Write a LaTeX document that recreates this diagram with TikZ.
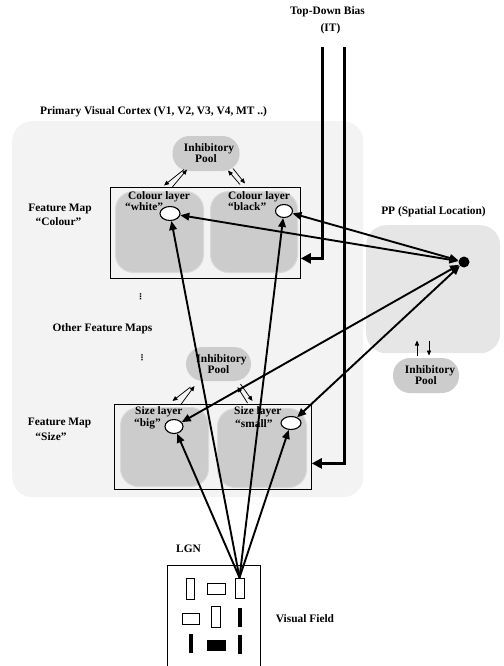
\documentclass[tikz,border=0pt]{standalone}
\usepackage{fontspec}
\setmainfont{Liberation Serif}
\newfontfamily\symfont{DejaVu Sans}
\usetikzlibrary{arrows.meta,shapes.geometric,calc}
\definecolor{cortexbg}{HTML}{F3F3F3}
\definecolor{ppbg}{HTML}{E6E6E6}
\definecolor{layergray}{HTML}{CCCCCC}
\definecolor{layerrim}{HTML}{DADADA}
\begin{document}
\begin{tikzpicture}[x=1pt,y=-1pt,
  font=\fontsize{11.4}{12}\selectfont\bfseries,
  >={Triangle[length=9pt,width=7.5pt]},
  region/.style={rounded corners=20pt, draw=none, anchor=north west, inner sep=0pt},
  mapbox/.style={draw=black, line width=0.8pt, anchor=north west, inner sep=0pt},
  layer/.style={rounded corners=18pt, fill=layergray, draw=layerrim, line width=1pt, anchor=north west, inner sep=0pt},
  pool/.style={fill=layergray, rounded corners=17pt, minimum width=67pt, minimum height=35pt, align=center, inner sep=0pt, text depth=0pt},
  cell/.style={ellipse, draw=black, fill=white, line width=1.1pt, inner sep=0pt},
  conn/.style={line width=1.9pt},
  topdown/.style={line width=3pt, -{Triangle[length=10pt,width=10pt]}},
  thin/.style={line width=0.75pt, -{Triangle[length=5pt,width=4.2pt]}},
  lbl/.style={inner sep=0pt, anchor=west},
  txt/.style={inner sep=0pt},
  vdotsbox/.style={inner sep=0pt, font=\symfont\bfseries\fontsize{8}{8}\selectfont},
  openbar/.style={draw=black, line width=0.8pt, inner sep=0pt},
  fullbar/.style={fill=black, inner sep=0pt},
]
\useasboundingbox (0,0) rectangle (503,666);

% regions
\node[region, fill=cortexbg, minimum width=351pt, minimum height=376pt] (cortex) at (12,121) {};
\node[region, fill=ppbg, minimum width=134pt, minimum height=128pt] (pp) at (366,225) {};

% feature map boxes
\node[mapbox, minimum width=190pt, minimum height=91pt] (colbox) at (110,187) {};
\node[mapbox, minimum width=197pt, minimum height=85pt] (sizebox) at (114,404) {};

% layers
\node[layer, minimum width=88pt, minimum height=81pt] (lwhite) at (115,191) {};
\node[layer, minimum width=87pt, minimum height=81pt] (lblack) at (210,191) {};
\node[layer, minimum width=88pt, minimum height=79pt] (lbig) at (120,407) {};
\node[layer, minimum width=89pt, minimum height=79pt] (lsmall) at (217,408) {};

% inhibitory pools
\node[pool] (ip1) at (206,153.5) {\hspace*{6pt}Inhibitory\\[-1pt]Pool};
\node[pool, minimum width=65pt, minimum height=34pt] (ip2) at (218.5,364) {\hspace*{6pt}Inhibitory\\[-1pt]Pool};
\node[pool, minimum width=66pt] (ip3) at (426,375.5) {\hspace*{8pt}Inhibitory\\[-1pt]Pool};

% layer labels
\node[lbl] (twhite1) at (128,196.5) {Colour layer};
\node[lbl] (twhite2) at (125,207) {“white”};
\node[lbl] (tblack1) at (228,196.5) {Colour layer};
\node[lbl] (tblack2) at (228,206.5) {“black”};
\node[lbl] (tbig1) at (135,412) {Size layer};
\node[lbl] (tbig2) at (134,423.5) {“big”};
\node[lbl] (tsmall1) at (234,412) {Size layer};
\node[lbl] (tsmall2) at (235,423.5) {“small”};

% cells
\node[cell, minimum width=20pt, minimum height=14pt] (white) at (170,213.5) {};
\node[cell, minimum width=17pt, minimum height=13pt] (black) at (284,211) {};
\node[cell, minimum width=18pt, minimum height=14pt] (big) at (174,426.5) {};
\node[cell, minimum width=20pt, minimum height=13pt] (small) at (291,423) {};

% PP location dot
\node[circle, fill=black, inner sep=0pt, minimum size=11pt] (dot) at (464,262) {};

% visual field
\node[mapbox, fill=white, minimum width=93pt, minimum height=125pt] (vf) at (167,565) {};
\node[openbar, minimum width=8pt, minimum height=21pt] (r1) at (190,588.5) {};
\node[openbar, minimum width=18pt, minimum height=11pt] (r2) at (216,588.5) {};
\node[openbar, minimum width=9pt, minimum height=20pt] (r3) at (239.5,588) {};
\node[openbar, minimum width=17pt, minimum height=11pt] (r4) at (190.5,618.5) {};
\node[openbar, minimum width=9pt, minimum height=21pt] (r5) at (215.5,616.5) {};
\node[fullbar, minimum width=4pt, minimum height=19pt] (r6) at (240,617.5) {};
\node[fullbar, minimum width=4pt, minimum height=19pt] (r7) at (191,643.5) {};
\node[fullbar, minimum width=19pt, minimum height=11pt] (r8) at (216.5,645.5) {};
\node[fullbar, minimum width=4pt, minimum height=19pt] (r9) at (240,644.5) {};

% texts
\node[txt] (tcortex) at (153.5,112) {Primary Visual Cortex (V1, V2, V3, V4, MT ..)};
\node[txt] (tfm1a) at (60,209) {Feature Map};
\node[txt] (tfm1b) at (58.5,222) {“Colour”};
\node[txt] (tfm2a) at (59.5,423) {Feature Map};
\node[txt] (tfm2b) at (51,436.5) {“Size”};
\node[txt] (tother) at (102.5,329) {Other Feature Maps};
\node[vdotsbox] (dots1) at (140.5,297) {⋮};
\node[vdotsbox] (dots2) at (142,358) {⋮};
\node[txt] (tpp) at (433.5,212) {PP (Spatial Location)};
\node[txt] (ttd1) at (327.5,12) {Top-Down Bias};
\node[txt] (ttd2) at (330.5,29) {(IT)};
\node[txt] (tlgn) at (188.5,549) {LGN};
\node[txt] (tvf) at (305,618.5) {Visual Field};

% top-down bias
\coordinate (tdA) at (322,47);
\coordinate (tdB) at (344,47);
\draw[topdown] (tdA) |- ([yshift=-25.5pt]colbox.east);
\draw[topdown] (tdB) |- ([yshift=-16.5pt]sizebox.east);

% inhibitory pool arrows
\draw[thin] ([shift={(-22,16)}]ip1.center) -- ++(-20,16);
\draw[thin] ([shift={(-34,34)}]ip1.center) -- ++(15,-18);
\draw[thin] ([shift={(34,31)}]ip1.center) -- ++(-12,-14);
\draw[thin] ([shift={(27,15)}]ip1.center) -- ++(12,15);
\draw[thin] ([shift={(-28,23)}]ip2.center) -- ++(-18,14);
\draw[thin] ([shift={(-38,41)}]ip2.center) -- ++(14,-19);
\draw[thin] ([shift={(29,39)}]ip2.center) -- ++(-10,-16);
\draw[thin] ([shift={(22,20)}]ip2.center) -- ++(12,17);
\draw[thin] ([shift={(-9,-20)}]ip3.center) -- ++(0,-15);
\draw[thin] ([shift={(3,-35)}]ip3.center) -- ++(0,15);

% PP <-> layers
\draw[conn, <->] (dot) -- (white);
\draw[conn, <->] (dot) -- (black);
\draw[conn, <->] (dot) -- (big);
\draw[conn, <->] (dot) -- (small);

% LGN -> layers
\draw[conn, ->] (r3.north) -- (white);
\draw[conn, ->] (r3.north) -- (black);
\draw[conn, ->] (r3.north) -- (big);
\draw[conn, ->] (r3.north) -- (small);
\end{tikzpicture}
\end{document}
